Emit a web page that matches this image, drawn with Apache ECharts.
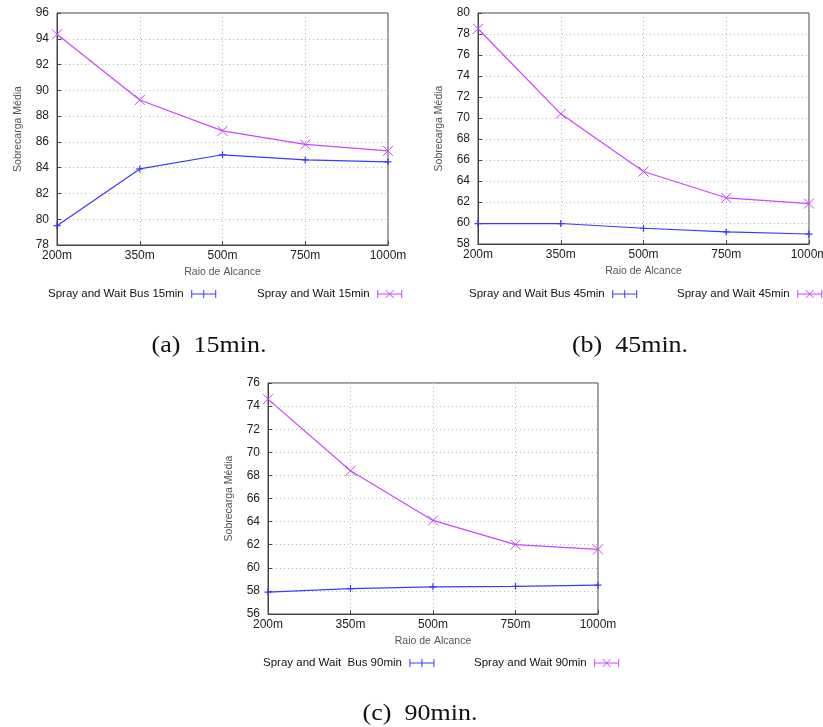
<!DOCTYPE html>
<html>
<head>
<meta charset="utf-8">
<script src="https://cdn.jsdelivr.net/npm/echarts@6/dist/echarts.min.js"></script>
<style>
  html, body { margin: 0; padding: 0; background: #fff; }
  #chart { width: 823px; height: 727px; }
</style>
</head>
<body>
<div id="chart"></div>
<script>
// Radius categories shared by all three panels
const categories = ['200m', '350m', '500m', '750m', '1000m'];

// Average overhead, 15 min TTL
const bus15 = [79.5, 83.9, 85.0, 84.6, 84.45];
const sw15 = [94.35, 89.25, 86.85, 85.8, 85.3];

// Average overhead, 45 min TTL
const bus45 = [59.95, 59.95, 59.5, 59.15, 58.95];
const sw45 = [78.5, 70.4, 64.9, 62.4, 61.85];

// Average overhead, 90 min TTL
const bus90 = [57.9, 58.2, 58.35, 58.4, 58.5];
const sw90 = [74.6, 68.4, 64.1, 62.0, 61.6];

// Y ranges per panel
const yRanges = [[78, 96], [58, 80], [56, 76]];

// Legend labels
const legendBus = ['Spray and Wait Bus 15min', 'Spray and Wait Bus 45min', 'Spray and Wait  Bus 90min'];
const legendSw = ['Spray and Wait 15min', 'Spray and Wait 45min', 'Spray and Wait 90min'];

// Captions
const captions = ['(a)  15min.', '(b)  45min.', '(c)  90min.'];

const BLUE = '#3a3aff';
const PINK = '#cc44ff';
const FONT = '"Liberation Sans", Arial, sans-serif';

const plusPath = 'path://M0,5L10,5M5,0L5,10';
const crossPath = 'path://M0,0L10,10M10,0L0,10';
const legendPlus = 'path://M0,0L0,8M0,4L24,4M24,0L24,8M12,0L12,8';
const legendCross = 'path://M0,0L0,8M0,4L24,4M24,0L24,8M8,0L16,8M16,0L8,8';

const grids = [
  { left: 57, top: 13, width: 331, height: 232 },
  { left: 478, top: 13, width: 331, height: 231 },
  { left: 268, top: 383, width: 330, height: 231 }
];

const legendPos = [
  { bus: [48, 288], sw: [257, 288] },
  { bus: [469, 288], sw: [677, 288] },
  { bus: [263, 657], sw: [474, 657] }
];

const captionPos = [[209, 346], [630, 346], [420, 714]];

const seriesData = [[bus15, sw15], [bus45, sw45], [bus90, sw90]];

const option = {
  animation: false,
  backgroundColor: '#fff',
  grid: grids.map(g => Object.assign({
    show: true, borderColor: '#444', borderWidth: 1, backgroundColor: 'transparent',
    outerBoundsMode: 'none', containLabel: false
  }, g)),
  xAxis: grids.map((g, i) => ({
    type: 'category',
    gridIndex: i,
    data: categories,
    boundaryGap: false,
    name: 'Raio de Alcance',
    nameLocation: 'middle',
    nameGap: 22,
    nameTextStyle: { fontFamily: FONT, fontSize: 10.5, color: '#555' },
    axisLine: { show: true, lineStyle: { color: '#444', width: 1 } },
    axisTick: { show: true, inside: true, length: 4, lineStyle: { color: '#444' } },
    axisLabel: { fontFamily: FONT, fontSize: 12, color: '#222', margin: 5 },
    splitLine: { show: true, lineStyle: { color: '#bbb', type: [1, 3], width: 1 } }
  })),
  yAxis: grids.map((g, i) => ({
    type: 'value',
    gridIndex: i,
    min: yRanges[i][0],
    max: yRanges[i][1],
    interval: 2,
    name: 'Sobrecarga Média',
    nameLocation: 'middle',
    nameGap: 33,
    nameTextStyle: { fontFamily: FONT, fontSize: 10.5, color: '#555' },
    axisLine: { show: true, lineStyle: { color: '#444', width: 1 } },
    axisTick: { show: true, inside: true, length: 4, lineStyle: { color: '#444' } },
    axisLabel: { fontFamily: FONT, fontSize: 12, color: '#222', margin: 8 },
    splitLine: { show: true, lineStyle: { color: '#bbb', type: [1, 3], width: 1 } }
  })),
  legend: [],
  series: [],
  // Sub-figure captions
  graphic: captions.map((c, i) => ({
    type: 'text',
    x: captionPos[i][0],
    y: captionPos[i][1],
    scaleX: 1.13,
    style: {
      text: c,
      font: '23px "Liberation Serif", "Times New Roman", serif',
      fill: '#111',
      align: 'center',
      verticalAlign: 'middle'
    }
  }))
};

seriesData.forEach(([bus, sw], i) => {
  option.series.push({
    name: legendBus[i],
    type: 'line',
    xAxisIndex: i,
    yAxisIndex: i,
    data: bus,
    symbol: plusPath,
    symbolSize: 7,
    lineStyle: { color: BLUE, width: 1.2 },
    itemStyle: { color: BLUE, borderColor: BLUE, borderWidth: 1.2 }
  });
  option.series.push({
    name: legendSw[i],
    type: 'line',
    xAxisIndex: i,
    yAxisIndex: i,
    data: sw,
    symbol: crossPath,
    symbolSize: 10,
    lineStyle: { color: PINK, width: 1.2 },
    itemStyle: { color: PINK, borderColor: PINK, borderWidth: 1 }
  });
  [['bus', legendBus[i], legendPlus, BLUE], ['sw', legendSw[i], legendCross, PINK]].forEach(([k, name, icon, col]) => {
    option.legend.push({
      left: legendPos[i][k][0],
      top: legendPos[i][k][1],
      align: 'right',
      data: [{ name: name, icon: icon }],
      itemWidth: 24,
      itemHeight: 8,
      selectedMode: false,
      padding: 0,
      textStyle: { fontFamily: FONT, fontSize: 11.5, color: '#111', padding: [0, 3, 0, 0] },
      itemStyle: { color: 'transparent', borderColor: col, borderWidth: 1 }
    });
  });
});

const chart = echarts.init(document.getElementById('chart'), null, { renderer: 'canvas' });
chart.setOption(option);
</script>
</body>
</html>
